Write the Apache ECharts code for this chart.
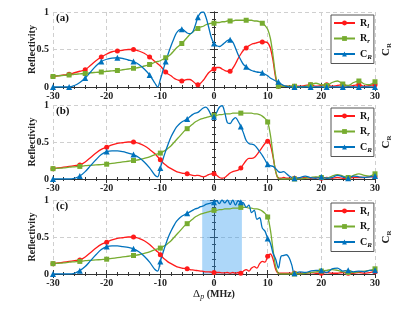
<!DOCTYPE html>
<html><head><meta charset="utf-8">
<script src="https://cdn.jsdelivr.net/npm/echarts@6/dist/echarts.min.js"></script>
<style>html,body{margin:0;padding:0;background:#fff}#c{width:415px;height:312px}</style>
</head><body><div id="c"></div>
<script>
// Detuning grid (MHz)
const X = [
 -30,-29,-28,-27,-26,-25,-24,-23,-22,-21,-20,-19,-18,-17,-16,-15,-14,-13,-12,-11,
 -10.5,-10,-9.5,-9,-8.5,-8,-7.5,-7,-6.5,-6,
 -5.5,-5,-4.5,-4,-3.5,-3,-2.5,-2,-1.5,-1,
 -0.5,0,0.5,1,1.5,2,2.5,3,3.5,4,
 4.5,5,5.5,6,6.5,7,7.5,8,8.5,9,
 9.5,10,10.5,11,11.5,12,12.5,13,13.5,14,
 14.5,15,
 16,17,18,19,20,21,22,23,24,25,26,27,28,29,30
];

// ---- Panel (a) ----
const RL_A = [
 .14,.15,.16,.17,.19,.21,.23,.29,.35,.40,.44,.47,.48,.49,.50,.50,.48,.45,.40,.34,
 .31,.28,.24,.20,.17,.15,.12,.10,.09,.08,
 .09,.10,.10,.08,.05,.03,.05,.09,.14,.19,
 .22,.24,.26,.26,.24,.22,.21,.21,.25,.31,
 .38,.44,.49,.52,.55,.57,.58,.59,.60,.60,
 .60,.59,.52,.35,.12,.01,.01,.01,.01,.01,
 .01,.01,
 .01,.02,.03,.01,.02,.03,.01,.02,.03,.01,.02,.03,.01,.02,.03
];
const RR_A = [
 .14,.15,.155,.16,.17,.175,.18,.19,.195,.20,.21,.215,.22,.23,.24,.25,.26,.28,.30,.33,
 .34,.35,.37,.39,.41,.44,.48,.52,.55,.58,
 .62,.66,.70,.73,.76,.78,.80,.81,.83,.84,
 .85,.85,.86,.86,.87,.87,.88,.88,.88,.89,
 .89,.89,.89,.89,.89,.89,.88,.88,.87,.85,
 .82,.77,.65,.42,.15,.01,.01,.01,.01,.01,
 .01,.01,
 .00,.01,.03,.05,.03,.02,.06,.08,.04,.02,.06,.08,.04,.03,.07
];
const CR_A = [
 0,0,0,0,.02,.06,.12,.20,.28,.34,.37,.385,.39,.38,.36,.34,.30,.24,.16,.05,
 0,.10,.22,.34,.45,.55,.64,.72,.76,.77,
 .75,.72,.71,.73,.82,.93,.99,1.0,.93,.80,
 .66,.58,.55,.54,.56,.59,.62,.63,.60,.52,
 .43,.36,.30,.27,.24,.22,.21,.20,.195,.19,
 .17,.15,.12,.10,.08,.07,.04,.02,.01,0,
 0,0,
 0,0,0,0,0,0,0,0,0,0,0,0,0,0,0
];

// ---- Panel (b) ----
const RL_B = [
 .14,.15,.16,.17,.18,.19,.23,.29,.35,.40,.43,.46,.48,.49,.50,.50,.48,.45,.40,.34,
 .30,.26,.22,.19,.16,.14,.12,.10,.09,.08,
 .075,.07,.06,.05,.045,.05,.04,.03,.04,.06,
 .07,.07,.05,.02,.01,.02,.05,.08,.10,.11,
 .12,.15,.20,.25,.28,.28,.29,.33,.38,.43,
 .48,.51,.46,.30,.10,.01,.01,.02,.01,.01,
 .01,.01,
 .01,.02,.01,.02,.01,.02,.01,.02,.01,.01,.02,.02,.02,.03,.03
];
const RR_B = [
 .14,.145,.15,.16,.165,.17,.18,.185,.19,.195,.20,.21,.22,.23,.24,.25,.26,.28,.30,.33,
 .34,.35,.37,.39,.42,.45,.49,.53,.57,.61,
 .65,.68,.71,.74,.77,.79,.81,.82,.83,.84,
 .85,.86,.86,.87,.87,.88,.88,.88,.89,.89,
 .89,.89,.89,.89,.89,.89,.88,.88,.87,.85,
 .82,.77,.60,.33,.10,.01,0,0,0,0,
 0,0,
 0,.01,.02,.03,.02,.01,.04,.06,.04,.02,.05,.07,.05,.04,.07
];
const CR_B = [
 0,0,0,0,.01,.04,.10,.18,.26,.33,.37,.38,.38,.37,.35,.33,.29,.23,.15,.05,
 .03,.15,.27,.38,.48,.57,.64,.70,.74,.77,
 .79,.81,.84,.87,.89,.90,.93,.96,.97,.93,
 .86,.84,.90,.97,.99,.90,.76,.75,.80,.83,
 .78,.71,.62,.52,.48,.47,.46,.42,.37,.32,
 .26,.20,.18,.17,.14,.10,.09,.10,.07,.04,
 .02,.01,
 .02,.04,.02,.01,.03,.01,.02,.05,.03,.01,.04,.03,.02,.03,.04
];

// ---- Panel (c) ----
const RL_C = [
 .14,.15,.16,.17,.18,.19,.23,.29,.35,.40,.43,.46,.48,.49,.50,.50,.48,.45,.40,.33,
 .30,.26,.22,.19,.16,.14,.12,.10,.09,.08,
 .075,.07,.06,.055,.05,.045,.04,.035,.03,.03,
 .025,.02,.02,.02,.015,.015,.02,.01,.02,.01,
 .02,.01,.04,.06,.04,.08,.10,.08,.14,.17,
 .16,.24,.27,.20,.06,.01,.01,.01,.01,.01,
 .01,.01,
 .01,.01,.02,.01,.01,.02,.01,.01,.02,.01,.01,.02,.01,.02,.03
];
const RR_C = [
 .14,.145,.15,.16,.165,.17,.18,.185,.19,.195,.20,.21,.22,.23,.24,.25,.26,.28,.30,.33,
 .34,.35,.37,.39,.42,.45,.49,.53,.57,.61,
 .65,.68,.71,.74,.77,.79,.81,.82,.83,.84,
 .85,.86,.86,.87,.87,.88,.88,.88,.89,.89,
 .89,.90,.90,.90,.89,.89,.88,.88,.87,.85,
 .82,.77,.60,.33,.10,.01,0,0,0,0,
 0,0,
 0,.01,.02,.03,.04,.05,.06,.05,.03,.02,.02,.03,.04,.05,.07
];
const CR_C = [
 0,0,0,0,.01,.045,.10,.18,.26,.33,.37,.38,.38,.37,.36,.34,.30,.24,.16,.06,
 .04,.17,.29,.40,.50,.58,.65,.71,.75,.78,
 .80,.82,.84,.86,.88,.89,.91,.92,.94,.95,
 .96,.97,.99,.95,1.0,.96,1.0,.94,1.0,.93,
 .99,.97,.96,.90,.93,.83,.86,.74,.76,.62,
 .58,.48,.42,.28,.20,.08,.24,.25,.26,.22,
 .12,.01,
 .03,.02,.04,.05,.05,.02,.07,.08,.04,.05,.03,.04,.03,.05,.05
];

// marker positions
const MARKS_A = [-30,-27,-24,-21,-18,-15,-12,-9,-6,-3,0,3,6,9,12,15,18,21,24,27,30];
const MARKS_BC = [-30,-25,-20,-15,-10,-5,0,5,10,15,20,25,30];
// shaded band in panel (c)
const SHADE_C = [-2.2, 5.2];
const PANEL_LABELS = ['(a)','(b)','(c)'];

const FONT = 'Liberation Serif';
const COL = {Rl:'#ff1a1a', Rr:'#77ac30', CR:'#0072bd'};
const SYM = {Rl:'circle', Rr:'rect', CR:'triangle'};
const panels = [
  {Rl:RL_A, Rr:RR_A, CR:CR_A, marks:MARKS_A, top:12, height:75},
  {Rl:RL_B, Rr:RR_B, CR:CR_B, marks:MARKS_BC, top:105, height:74},
  {Rl:RL_C, Rr:RR_C, CR:CR_C, marks:MARKS_BC, top:200, height:74}
];

function mk(arr, marks){
  return X.map((x,k)=> marks.indexOf(x) >= 0 ? [x, arr[k]] : {value:[x, arr[k]], symbol:'none'});
}

const subRich = {
  m:{fontFamily:FONT,fontSize:10,fontWeight:'bold',color:'#111'},
  s:{fontFamily:FONT,fontSize:7,fontWeight:'bold',fontStyle:'italic',color:'#111',padding:[6,0,0,0]}
};
const legendFmt = n => ({Rl:'{m|R}{s|l}', Rr:'{m|R}{s|r}', CR:'{m|C}{s|R}'})[n];

const grid=[], xAxis=[], yAxis=[], series=[], legend=[], title=[];
const axLine = {lineStyle:{color:'#333',width:1}};
panels.forEach((p,i)=>{
  grid.push({left:53, width:322, top:p.top, height:p.height});
  xAxis.push({gridIndex:i, type:'value', min:-30, max:30, interval:10, position:'bottom',
    axisLine:axLine, axisTick:{inside:true,length:4,lineStyle:{color:'#333'}},
    minorTick:{show:true,splitNumber:5,length:2,lineStyle:{color:'#333'}},
    axisLabel:{fontFamily:FONT,fontSize:10,fontWeight:'bold',color:'#222',margin:4},
    splitLine:{show:true,lineStyle:{color:'#cfcfcf',type:[4,3],width:1}},
    name: i===2 ? '{m|Δ}{s|p}{n| (MHz)}' : '', nameLocation:'middle', nameGap:13,
    nameMoveOverlap:false,
    nameTextStyle:{rich:{m:{fontFamily:FONT,fontSize:11,color:'#222'},
      s:{fontFamily:FONT,fontSize:8,fontStyle:'italic',color:'#222',padding:[6,0,0,0]},
      n:{fontFamily:FONT,fontSize:10,fontWeight:'bold',color:'#222'}}}
  });
  xAxis.push({gridIndex:i, type:'value', min:-30, max:30, interval:10, position:'top',
    axisLine:axLine, axisTick:{inside:true,length:4,lineStyle:{color:'#333'}},
    minorTick:{show:true,splitNumber:5,length:2,lineStyle:{color:'#333'}},
    axisLabel:{show:false}, splitLine:{show:false}});
  yAxis.push({gridIndex:i, type:'value', min:0, max:1, interval:0.5, position:'left',
    axisLine:{show:true,lineStyle:{color:'#333',width:1}}, axisTick:{inside:true,length:4,lineStyle:{color:'#333'}},
    minorTick:{show:true,splitNumber:5,length:2,lineStyle:{color:'#333'}},
    axisLabel:{fontFamily:FONT,fontSize:10,fontWeight:'bold',color:'#222',margin:4},
    splitLine:{show:true,lineStyle:{color:'#cfcfcf',type:[4,3],width:1}},
    name:'Reflectivity', nameLocation:'middle', nameGap:16, nameRotate:90, nameMoveOverlap:false,
    nameTextStyle:{fontFamily:FONT,fontSize:10,fontWeight:'bold',color:'#222'}});
  yAxis.push({gridIndex:i, type:'value', min:0, max:1, interval:0.5, position:'right',
    axisLine:{show:true,lineStyle:{color:'#333',width:1}}, axisTick:{inside:true,length:4,lineStyle:{color:'#333'}},
    minorTick:{show:true,splitNumber:5,length:2,lineStyle:{color:'#333'}},
    axisLabel:{show:false}, splitLine:{show:false},
    name:'{m|C}{s|R}', nameLocation:'middle', nameGap:5, nameRotate:90, nameMoveOverlap:false,
    nameTextStyle:{rich:{m:{fontFamily:FONT,fontSize:11,fontWeight:'bold',color:'#222'},
      s:{fontFamily:FONT,fontSize:7,fontWeight:'bold',color:'#222',padding:[6,0,0,0]}}}});
  ['Rl','Rr','CR'].forEach(k=>{
    series.push({name:k, type:'line', xAxisIndex:2*i, yAxisIndex:2*i,
      data:mk(p[k], p.marks), smooth:0.35, showAllSymbol:true, symbol:SYM[k],
      symbolSize: k==='CR'?6:5, color:COL[k], itemStyle:{color:COL[k]},
      lineStyle:{color:COL[k],width:1.3}, z:3, animation:false});
  });
  legend.push({data:['Rl','Rr','CR'], orient:'vertical', left:331, top:p.top+3,
    itemWidth:21, itemHeight:6, itemGap:4, itemTextGap:2, padding:[3,2,3,2],
    borderColor:'#555', borderWidth:1, backgroundColor:'#fff',
    formatter:legendFmt, textStyle:{rich:subRich}, selectedMode:false});
  title.push({text:PANEL_LABELS[i], left:56, top:p.top+1, padding:0,
    textStyle:{fontFamily:FONT,fontSize:11,fontWeight:'bold',color:'#111'}});
});
series.push({type:'line', xAxisIndex:4, yAxisIndex:4, data:[], z:1, silent:true,
  markArea:{silent:true, itemStyle:{color:'rgba(40,150,240,0.38)'},
    data:[[{xAxis:SHADE_C[0]},{xAxis:SHADE_C[1]}]]}});

const chart = echarts.init(document.getElementById('c'), null, {renderer:'canvas'});
chart.setOption({animation:false, backgroundColor:'#fff', grid, xAxis, yAxis, series, legend, title});
</script></body></html>
